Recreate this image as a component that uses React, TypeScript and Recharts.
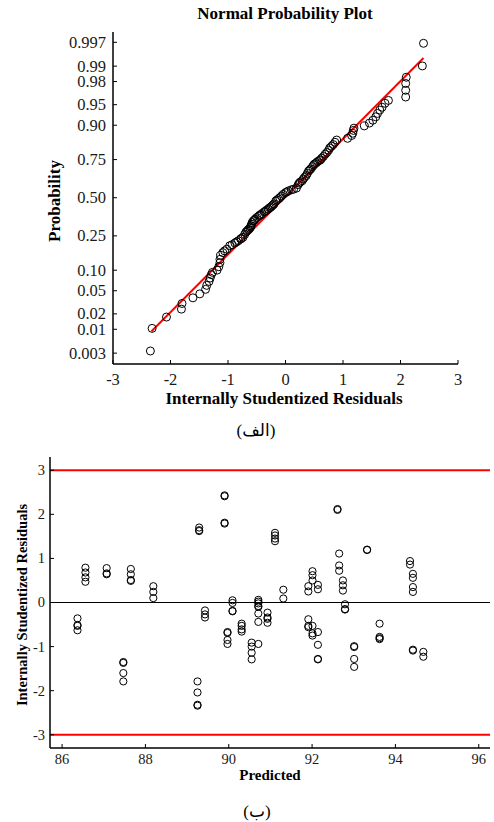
import React from 'react';
import { ScatterChart, Scatter, XAxis, YAxis, ReferenceLine } from 'recharts';

const SERIF = '"Liberation Serif", "Times New Roman", "DejaVu Sans", serif';
const INK = '#1a1a1a';
const TICK_LEN = 4;

// ---- (a) Normal probability plot of the studentized residuals ----
const probResidual = [
  -2.35, -2.32, -2.07, -1.81, -1.8, -1.61, -1.49, -1.39, -1.37, -1.33,
  -1.31, -1.29, -1.27, -1.19, -1.16, -1.14, -1.14, -1.13, -1.09, -1.06,
  -1.02, -0.97, -0.93, -0.88, -0.85, -0.82, -0.78, -0.77, -0.74, -0.71,
  -0.69, -0.67, -0.65, -0.64, -0.62, -0.61, -0.6, -0.59, -0.58, -0.56,
  -0.54, -0.53, -0.5, -0.47, -0.45, -0.43, -0.41, -0.37, -0.35, -0.33,
  -0.3, -0.28, -0.26, -0.24, -0.22, -0.2, -0.17, -0.15, -0.12, -0.1,
  -0.07, -0.04, 0.0, 0.02, 0.05, 0.1, 0.14, 0.19, 0.22, 0.24,
  0.26, 0.29, 0.31, 0.33, 0.36, 0.38, 0.4, 0.42, 0.44, 0.47,
  0.49, 0.51, 0.54, 0.56, 0.59, 0.61, 0.63, 0.66, 0.69, 0.72,
  0.75, 0.77, 0.8, 0.83, 0.86, 0.89, 1.08, 1.15, 1.17, 1.18,
  1.19, 1.37, 1.46, 1.52, 1.57, 1.6, 1.64, 1.68, 1.73, 1.79,
  2.09, 2.09, 2.09, 2.1, 2.38, 2.4,
];
// normal scores (z) of the plotting positions
const probScore = [
  -2.71, -2.31, -2.11, -1.97, -1.87, -1.77, -1.7, -1.62, -1.55, -1.48,
  -1.42, -1.36, -1.32, -1.28, -1.22, -1.15, -1.09, -1.02, -0.97, -0.94,
  -0.91, -0.85, -0.83, -0.8, -0.78, -0.76, -0.73, -0.72, -0.7, -0.65,
  -0.61, -0.59, -0.57, -0.56, -0.54, -0.52, -0.5, -0.47, -0.44, -0.41,
  -0.4, -0.38, -0.35, -0.33, -0.31, -0.3, -0.28, -0.25, -0.24, -0.22,
  -0.2, -0.18, -0.17, -0.15, -0.13, -0.11, -0.06, -0.04, -0.02, 0.0,
  0.03, 0.06, 0.09, 0.1, 0.12, 0.14, 0.15, 0.17, 0.23, 0.26,
  0.28, 0.3, 0.33, 0.36, 0.39, 0.43, 0.47, 0.49, 0.51, 0.55,
  0.58, 0.6, 0.62, 0.64, 0.66, 0.67, 0.7, 0.73, 0.77, 0.8,
  0.84, 0.88, 0.91, 0.94, 0.98, 1.02, 1.05, 1.1, 1.14, 1.19,
  1.23, 1.27, 1.32, 1.37, 1.43, 1.49, 1.55, 1.6, 1.67, 1.72,
  1.78, 1.9, 2.02, 2.13, 2.33, 2.73,
];
const fitResidual = [-2.33, 2.4];
const fitScore = [-2.36, 2.47];
const probTickValues = [0.003, 0.01, 0.02, 0.05, 0.1, 0.25, 0.5, 0.75, 0.9, 0.95, 0.98, 0.99, 0.997];
const probTickLabels = ['0.003', '0.01', '0.02', '0.05', '0.10', '0.25', '0.50', '0.75', '0.90', '0.95', '0.98', '0.99', '0.997'];
const residTicks = [-3, -2, -1, 0, 1, 2, 3];

// ---- (b) Studentized residuals versus predicted response ----
const predicted = [
  86.56, 86.56, 86.56, 86.56, 86.37, 86.37, 86.37, 86.37,
  87.07, 87.07, 87.07, 87.47, 87.47, 87.47, 87.47,
  87.65, 87.65, 87.65, 87.65, 88.19, 88.19, 88.19,
  89.25, 89.25, 89.25, 89.25, 89.29, 89.29, 89.29,
  89.43, 89.43, 89.43, 89.9, 89.9, 89.9, 89.9,
  89.97, 89.97, 89.97, 89.97, 90.09, 90.09, 90.09, 90.09,
  90.31, 90.31, 90.31, 90.31, 90.55, 90.55, 90.55, 90.55,
  90.71, 90.71, 90.71, 90.71, 90.71, 90.71, 90.71, 90.71,
  90.93, 90.93, 90.93, 90.93, 91.11, 91.11, 91.11, 91.11,
  91.31, 91.31, 91.91, 91.91, 91.91, 91.91, 91.91,
  92.01, 92.01, 92.01, 92.01, 92.01, 92.01,
  92.14, 92.14, 92.14, 92.14, 92.14, 92.14,
  92.61, 92.61, 92.65, 92.65, 92.65, 92.74, 92.74, 92.74,
  92.79, 92.79, 92.79, 93.01, 93.01, 93.01, 93.01,
  93.32, 93.32, 93.62, 93.62, 93.62, 93.62,
  94.35, 94.35, 94.42, 94.42, 94.42, 94.42, 94.42, 94.42,
  94.67, 94.67,
];
const residual = [
  0.79, 0.68, 0.57, 0.47, -0.36, -0.51, -0.53, -0.63,
  0.78, 0.66, 0.64, -1.35, -1.37, -1.6, -1.79,
  0.76, 0.64, 0.51, 0.49, 0.37, 0.24, 0.1,
  -1.79, -2.04, -2.32, -2.34, 1.7, 1.64, 1.62,
  -0.18, -0.27, -0.34, 2.43, 2.41, 1.81, 1.79,
  -0.67, -0.69, -0.85, -0.94, 0.05, -0.01, -0.19, -0.2,
  -0.48, -0.53, -0.61, -0.66, -0.91, -1.0, -1.14, -1.29,
  0.06, 0.02, -0.02, -0.08, -0.1, -0.25, -0.44, -0.94,
  -0.23, -0.34, -0.37, -0.46, 1.58, 1.52, 1.45, 1.39,
  0.29, 0.09, 0.37, 0.25, -0.38, -0.53, -0.56,
  0.71, 0.62, 0.5, -0.53, -0.7, -0.75,
  0.4, 0.3, -0.67, -0.96, -1.28, -1.29,
  2.12, 2.1, 1.11, 0.84, 0.72, 0.5, 0.39, 0.27,
  -0.04, -0.15, -0.16, -0.99, -1.01, -1.28, -1.46,
  1.2, 1.19, -0.48, -0.78, -0.81, -0.83,
  0.94, 0.86, 0.65, 0.56, 0.35, 0.24, -1.07, -1.09,
  -1.12, -1.23,
];
const predictedTicks = [86, 88, 90, 92, 94, 96];
const residualTicks = [-3, -2, -1, 0, 1, 2, 3];
const controlLimits = [-3, 3];

// Inverse standard normal CDF (Acklam's rational approximation),
// used to place the probability ticks on the normal-score axis.
function invNorm(p: number): number {
  const a = [-39.69683028665376, 220.9460984245205, -275.9285104469687, 138.357751867269, -30.66479806614716, 2.506628277459239];
  const b = [-54.47609879822406, 161.5858368580409, -155.6989798598866, 66.80131188771972, -13.28068155922803];
  const c = [-0.007784894002430293, -0.3223964580411365, -2.400758277161838, -2.549732539343734, 4.374664141464968, 2.938163982698783];
  const d = [0.007784695709041462, 0.3224671290700398, 2.445134137142996, 3.754408661907416];
  const pLow = 0.02425;
  if (p < pLow) {
    const q = Math.sqrt(-2 * Math.log(p));
    return (((((c[0] * q + c[1]) * q + c[2]) * q + c[3]) * q + c[4]) * q + c[5]) /
      ((((d[0] * q + d[1]) * q + d[2]) * q + d[3]) * q + 1);
  }
  if (p <= 1 - pLow) {
    const q = p - 0.5;
    const r = q * q;
    return ((((((a[0] * r + a[1]) * r + a[2]) * r + a[3]) * r + a[4]) * r + a[5]) * q) /
      (((((b[0] * r + b[1]) * r + b[2]) * r + b[3]) * r + b[4]) * r + 1);
  }
  const q = Math.sqrt(-2 * Math.log(1 - p));
  return -(((((c[0] * q + c[1]) * q + c[2]) * q + c[3]) * q + c[4]) * q + c[5]) /
    ((((d[0] * q + d[1]) * q + d[2]) * q + d[3]) * q + 1);
}

const probTicks = probTickValues.map(invNorm);
const probPoints = probResidual.map((r, i) => ({ r, z: probScore[i] }));
const fitSegment = fitResidual.map((r, i) => ({ x: r, y: fitScore[i] }));
const residPoints = predicted.map((p, i) => ({ p, e: residual[i] }));

const ringA = (props: any) => (
  <circle cx={props.cx} cy={props.cy} r={4} fill="none" stroke="#000" strokeWidth={1} />
);
const ringB = (props: any) => (
  <circle cx={props.cx} cy={props.cy} r={3.6} fill="none" stroke="#000" strokeWidth={1} />
);

// Axis ticks point into the plot; labels sit outside the frame.
const bottomTick = (fontSize: number, gap: number) => (props: any) => {
  const { x, y, payload } = props;
  return (
    <g>
      <line x1={x} y1={y} x2={x} y2={y - TICK_LEN} stroke="#000" strokeWidth={1} />
      <text x={x} y={y + gap} dy="0.71em" textAnchor="middle" fill={INK} fontSize={fontSize} fontFamily={SERIF}>
        {String(payload.value)}
      </text>
    </g>
  );
};
const leftTick = (fontSize: number, gap: number, labels?: string[]) => (props: any) => {
  const { x, y, payload, index } = props;
  const text = labels ? labels[index] : String(payload.value);
  return (
    <g>
      <line x1={x} y1={y} x2={x + TICK_LEN} y2={y} stroke="#000" strokeWidth={1} />
      <text x={x - gap} y={y} dy="0.34em" textAnchor="end" fill={INK} fontSize={fontSize} fontFamily={SERIF}>
        {text}
      </text>
    </g>
  );
};
const topTick = (props: any) => (
  <line x1={props.x} y1={props.y} x2={props.x} y2={props.y + TICK_LEN} stroke="#000" strokeWidth={1} />
);
const rightTick = (props: any) => (
  <line x1={props.x} y1={props.y} x2={props.x - TICK_LEN} y2={props.y} stroke="#000" strokeWidth={1} />
);

const abs = (left: number, top: number, extra: React.CSSProperties = {}): React.CSSProperties => ({
  position: 'absolute',
  left,
  top,
  transform: 'translate(-50%, -50%)',
  whiteSpace: 'nowrap',
  fontFamily: SERIF,
  color: '#000',
  lineHeight: 1,
  ...extra,
});

export default function App() {
  const axisLine = { stroke: '#000', strokeWidth: 1.5 };

  return (
    <div style={{ position: 'absolute', left: 0, top: 0, width: 494, height: 822, background: '#fff', fontFamily: SERIF }}>
      {/* (a) normal probability plot */}
      <div style={{ position: 'absolute', left: 0, top: 0 }}>
        <ScatterChart width={494} height={420} margin={{ top: 32, right: 36, bottom: 0, left: 0 }} style={{ fontFamily: SERIF }}>
          <XAxis
            type="number" dataKey="r" domain={[-3, 3]} ticks={residTicks} interval={0}
            height={56} axisLine={axisLine} tickLine={false} tickSize={0} tickMargin={0} tick={bottomTick(16.5, 9)}
          />
          <XAxis
            xAxisId="top" orientation="top" type="number" domain={[-3, 3]} ticks={residTicks} interval={0}
            height={0} axisLine={axisLine} tickLine={false} tickSize={0} tickMargin={0} tick={topTick}
          />
          <YAxis
            type="number" dataKey="z" domain={[-2.94, 2.93]} ticks={probTicks} interval={0}
            width={113} axisLine={axisLine} tickLine={false} tickSize={0} tickMargin={0}
            tick={leftTick(16.5, 7, probTickLabels)}
          />
          <YAxis
            yAxisId="right" orientation="right" type="number" domain={[-2.94, 2.93]} ticks={probTicks} interval={0}
            width={0} axisLine={axisLine} tickLine={false} tickSize={0} tickMargin={0} tick={rightTick}
          />
          <ReferenceLine segment={fitSegment} stroke="#ff0000" strokeWidth={2} ifOverflow="visible" />
          <Scatter data={probPoints} shape={ringA} isAnimationActive={false} />
        </ScatterChart>
      </div>

      <div style={abs(285, 13, { fontSize: 17, fontWeight: 'bold' })}>Normal Probability Plot</div>
      <div style={abs(284, 398, { fontSize: 17, fontWeight: 'bold' })}>Internally Studentized Residuals</div>
      <div style={abs(54, 201, { fontSize: 17, fontWeight: 'bold', transform: 'translate(-50%, -50%) rotate(-90deg)' })}>
        Probability
      </div>
      <div style={abs(256, 430, { fontSize: 17 })}>(الف)</div>

      {/* (b) residuals versus predicted */}
      <div style={{ position: 'absolute', left: 0, top: 420 }}>
        <ScatterChart width={494} height={402} margin={{ top: 37, right: 4, bottom: 0, left: 0 }} style={{ fontFamily: SERIF }}>
          <XAxis
            type="number" dataKey="p" domain={[85.71, 96.27]} ticks={predictedTicks} interval={0}
            height={74} axisLine={axisLine} tickLine={false} tickSize={0} tickMargin={0} tick={bottomTick(14.5, 6)}
          />
          <XAxis
            xAxisId="top" orientation="top" type="number" domain={[85.71, 96.27]} ticks={predictedTicks} interval={0}
            height={0} axisLine={axisLine} tickLine={false} tickSize={0} tickMargin={0} tick={topTick}
          />
          <YAxis
            type="number" dataKey="e" domain={[-3.3, 3.3]} ticks={residualTicks} interval={0}
            width={50} axisLine={axisLine} tickLine={false} tickSize={0} tickMargin={0} tick={leftTick(14.5, 5)}
          />
          <YAxis
            yAxisId="right" orientation="right" type="number" domain={[-3.3, 3.3]} ticks={residualTicks} interval={0}
            width={0} axisLine={axisLine} tickLine={false} tickSize={0} tickMargin={0} tick={rightTick}
          />
          {controlLimits.map((v) => (
            <ReferenceLine key={v} y={v} stroke="#ff0000" strokeWidth={1.8} />
          ))}
          <ReferenceLine y={0} stroke="#000" strokeWidth={1.2} />
          <Scatter data={residPoints} shape={ringB} isAnimationActive={false} />
        </ScatterChart>
      </div>

      <div style={abs(270, 775, { fontSize: 15, fontWeight: 'bold' })}>Predicted</div>
      <div style={abs(22, 605, { fontSize: 14.5, fontWeight: 'bold', transform: 'translate(-50%, -50%) rotate(-90deg)' })}>
        Internally Studentized Residuals
      </div>
      <div style={abs(257, 811, { fontSize: 17 })}>(ب)</div>
    </div>
  );
}
